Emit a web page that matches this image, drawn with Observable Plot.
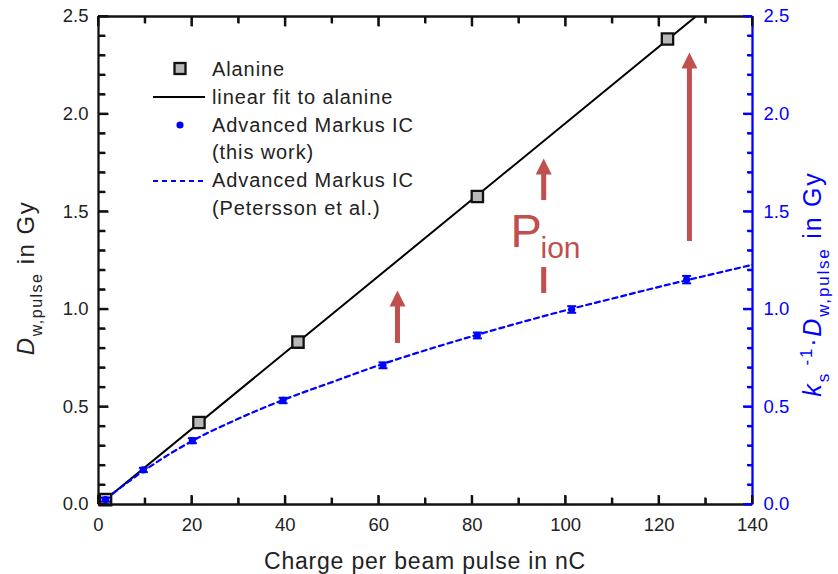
<!DOCTYPE html>
<html><head><meta charset="utf-8">
<script src="https://cdn.jsdelivr.net/npm/d3@7"></script>
<script src="https://cdn.jsdelivr.net/npm/@observablehq/plot@0.6"></script>
<style>
body{margin:0;background:#fff;}
#chart{width:838px;height:574px;}
svg text{font-family:"Liberation Sans",Arial,sans-serif;}
</style>
</head><body><div id="chart"></div>
<script>
// ---- data ----
const alanineCharge = [1.5, 21.5, 42.7, 81.1, 121.8];
const alanineDose   = [0.025, 0.42, 0.832, 1.578, 2.385];

const icCharge = [1.5, 9.6, 20.1, 39.5, 60.9, 81.1, 101.3, 125.9];
const icDose   = [0.025, 0.177, 0.327, 0.533, 0.713, 0.866, 0.999, 1.152];
const icErr    = [0.010, 0.011, 0.013, 0.014, 0.015, 0.015, 0.017, 0.019];

const peterssonCharge = [0, 10, 20, 30, 40, 50, 60, 70, 80, 90, 100, 110, 120, 130, 140];
const peterssonDose   = [0, 0.178, 0.325, 0.44, 0.54, 0.627, 0.713, 0.79, 0.862, 0.93, 0.995, 1.055, 1.115, 1.172, 1.228];

const xTickLabels = [0, 20, 40, 60, 80, 100, 120, 140];
const yTickLabels = [0, 0.5, 1.0, 1.5, 2.0, 2.5];
const xMinor = [10, 30, 50, 70, 90, 110, 130];
const yMinor = [0.1,0.2,0.3,0.4,0.6,0.7,0.8,0.9,1.1,1.2,1.3,1.4,1.6,1.7,1.8,1.9,2.1,2.2,2.3,2.4];

// P_ion arrows (annotation)
const arrowX    = [64.0, 95.3, 126.5];
const arrowFrom = [0.825, 1.557, 1.347];
const arrowTo   = [1.096, 1.772, 2.316];
const pionBarX = [95.3], pionBarFrom = [1.081], pionBarTo = [1.214];
const pionLabelX = [88.2], pionLabelY = [1.318];

const legendLabels = ["Alanine", "linear fit to alanine", "Advanced Markus IC", "(this work)", "Advanced Markus IC", "(Petersson et al.)"];

// ---- layout ----
const W = 838, H = 574, ML = 98, MR = 86, MT = 16, MB = 70;
const XMAX = 140, YMAX = 2.5;
const pxX = (W - ML - MR) / XMAX;   // pixels per nC
const pxY = (H - MT - MB) / YMAX;   // pixels per Gy
const px2x = p => p / pxX, px2y = p => p / pxY;

// ---- derived tables ----
const alanine = alanineCharge.map((x, i) => ({x, y: alanineDose[i]}));
const ic = icCharge.map((x, i) => ({x, y: icDose[i], e: icErr[i]}));
const petersson = peterssonCharge.map((x, i) => ({x, y: peterssonDose[i]}));
const arrows = arrowX.map((x, i) => ({x, y1: arrowFrom[i], y2: arrowTo[i]}));
const pionBar = pionBarX.map((x, i) => ({x, y1: pionBarFrom[i], y2: pionBarTo[i]}));
const pionLabel = pionLabelX.map((x, i) => ({x, y: pionLabelY[i]}));

// inward tick segments
const xTickSegs = [
  ...xTickLabels.map(v => ({x: v, y1: 0, y2: px2y(9)})),
  ...xMinor.map(v => ({x: v, y1: 0, y2: px2y(6.5)})),
  ...xTickLabels.map(v => ({x: v, y1: YMAX, y2: YMAX - px2y(10)})),
  ...xMinor.map(v => ({x: v, y1: YMAX, y2: YMAX - px2y(7)}))
];
const yTickSegsLeft = [
  ...yTickLabels.map(v => ({y: v, x1: 0, x2: px2x(10)})),
  ...yMinor.map(v => ({y: v, x1: 0, x2: px2x(7)}))
];
const yTickSegsRight = [
  ...yTickLabels.map(v => ({y: v, x1: XMAX, x2: XMAX - px2x(9)})),
  ...yMinor.map(v => ({y: v, x1: XMAX, x2: XMAX - px2x(5)}))
];

// least-squares linear fit to alanine
const mx = d3.mean(alanineCharge), my = d3.mean(alanineDose);
const slope = d3.sum(alanine, d => (d.x - mx) * (d.y - my)) / d3.sum(alanine, d => (d.x - mx) ** 2);
const intercept = my - slope * mx;
const fit = [0, XMAX].map(x => ({x, y: intercept + slope * x}));

const BLUE = "#0000ff", RED = "#c0504d", INK = "#111";
const headSym = {draw(ctx) { ctx.moveTo(0, 0); ctx.lineTo(-8, 16); ctx.lineTo(8, 16); ctx.closePath(); }};
const capW = px2x(4.5);
const tw = 2;
const frameH = [{y: 0}, {y: YMAX}];
const frameL = [{x: 0}], frameR = [{x: XMAX}];

const plot = Plot.plot({
  width: W, height: H,
  marginLeft: ML, marginRight: MR, marginTop: MT, marginBottom: MB,
  x: {domain: [0, XMAX]},
  y: {domain: [0, YMAX]},
  style: {background: "white", fontFamily: "Liberation Sans, Arial, sans-serif", overflow: "visible"},
  marks: [
    // tick labels
    Plot.axisX(xTickLabels, {anchor: "bottom", tickSize: 0, tickPadding: 13, tickFormat: d => String(d), fontSize: 18.5, label: null, fill: "#222"}),
    Plot.axisY(yTickLabels, {anchor: "left", tickSize: 0, tickPadding: 10, tickFormat: d3.format(".1f"), fontSize: 18.5, label: null, fill: "#222"}),
    Plot.axisY(yTickLabels, {anchor: "right", tickSize: 0, tickPadding: 11, tickFormat: d3.format(".1f"), fontSize: 18.5, label: null, fill: BLUE}),

    // fit line
    Plot.line(fit, {x: "x", y: "y", stroke: "black", strokeWidth: 2, clip: true}),
    // Petersson model (dashed)
    Plot.line(petersson, {x: "x", y: "y", stroke: BLUE, strokeWidth: 2.2, strokeDasharray: "5,4", curve: "catmull-rom", clip: true}),
    // alanine squares
    Plot.dot(alanine, {x: "x", y: "y", symbol: "square", r: 6.4, fill: "#b8b8b8", stroke: INK, strokeWidth: 2.3}),
    // IC error bars + points
    Plot.link(ic, {x1: "x", x2: "x", y1: d => d.y - d.e, y2: d => d.y + d.e, stroke: BLUE, strokeWidth: 2}),
    Plot.link(ic, {y1: d => d.y - d.e, y2: d => d.y - d.e, x1: d => d.x - capW, x2: d => d.x + capW, stroke: BLUE, strokeWidth: 2}),
    Plot.link(ic, {y1: d => d.y + d.e, y2: d => d.y + d.e, x1: d => d.x - capW, x2: d => d.x + capW, stroke: BLUE, strokeWidth: 2}),
    Plot.dot(ic, {x: "x", y: "y", r: 3.6, fill: BLUE, stroke: "none"}),

    // P_ion arrows
    Plot.ruleX(arrows, {x: "x", y1: "y2", y2: "y1", stroke: RED, strokeWidth: 5, insetTop: 12}),
    Plot.dot(arrows, {x: "x", y: "y2", symbol: headSym, fill: RED, stroke: "none"}),
    Plot.ruleX(pionBar, {x: "x", y1: "y2", y2: "y1", stroke: RED, strokeWidth: 5}),
    Plot.text(pionLabel, {x: "x", y: "y", text: () => "P", fill: RED, fontSize: 47, textAnchor: "start", lineAnchor: "bottom"}),
    Plot.text(pionLabel, {x: "x", y: "y", dx: 30, dy: 11, text: () => "ion", fill: RED, fontSize: 30, textAnchor: "start", lineAnchor: "bottom"}),

    // frame
    Plot.ruleY(frameH, {y: "y", stroke: INK, strokeWidth: 2.3}),
    Plot.ruleX(frameL, {x: "x", stroke: INK, strokeWidth: 2.3}),
    Plot.ruleX(frameR, {x: "x", stroke: BLUE, strokeWidth: 2.3}),

    // inward ticks (drawn last, on top of the frame)
    Plot.link(xTickSegs, {x1: "x", x2: "x", y1: "y1", y2: "y2", stroke: INK, strokeWidth: tw}),
    Plot.link(yTickSegsLeft, {x1: "x1", x2: "x2", y1: "y", y2: "y", stroke: INK, strokeWidth: tw}),
    Plot.link(yTickSegsRight, {x1: "x1", x2: "x2", y1: "y", y2: "y", stroke: BLUE, strokeWidth: tw})
  ]
});
document.getElementById("chart").appendChild(plot);

// ---- titles and legend ----
const svg = d3.select(plot);
const sx = plot.scale("x"), sy = plot.scale("y");

// safety copy of the inward ticks, positioned through Plot's own scales
const tg = svg.append("g").attr("fill", "none").attr("stroke-width", tw);
xTickSegs.forEach(d => tg.append("line").attr("stroke", INK)
  .attr("x1", sx.apply(d.x)).attr("x2", sx.apply(d.x)).attr("y1", sy.apply(d.y1)).attr("y2", sy.apply(d.y2)));
yTickSegsLeft.forEach(d => tg.append("line").attr("stroke", INK)
  .attr("x1", sx.apply(d.x1)).attr("x2", sx.apply(d.x2)).attr("y1", sy.apply(d.y)).attr("y2", sy.apply(d.y)));
yTickSegsRight.forEach(d => tg.append("line").attr("stroke", BLUE)
  .attr("x1", sx.apply(d.x1)).attr("x2", sx.apply(d.x2)).attr("y1", sy.apply(d.y)).attr("y2", sy.apply(d.y)));

function rich(transform, parts, opts = {}) {
  const t = svg.append("text").attr("transform", transform)
    .attr("text-anchor", opts.anchor || "middle")
    .attr("fill", opts.fill || "#222")
    .attr("font-size", opts.size || 22)
    .style("letter-spacing", opts.ls || "0px");
  parts.forEach(p => {
    const s = t.append("tspan").text(p.t);
    if (p.italic) s.attr("font-style", "italic");
    if (p.size) s.attr("font-size", p.size);
    if (p.dy) s.attr("dy", p.dy);
  });
  return t;
}
rich("translate(425,569)", [{t: "Charge per beam pulse in nC"}], {size: 23, ls: "0.8px"});
rich("translate(34,278) rotate(-90)", [
  {t: "D", italic: true}, {t: "w,pulse", size: 16, dy: 8}, {t: " in Gy", dy: -8}
], {size: 24, ls: "1.5px"});
rich("translate(821,284) rotate(-90)", [
  {t: "k", italic: true}, {t: "s", size: 17, dy: 8}, {t: " -1", size: 17, dy: -17},
  {t: "·", dy: 9}, {t: "D", italic: true}, {t: "w,pulse", size: 17, dy: 8}, {t: " in Gy", dy: -8}
], {size: 25, fill: BLUE, ls: "1.8px"});

// legend
const lg = svg.append("g");
const baseY = 76, step = 27.8;
legendLabels.forEach((s, i) => {
  lg.append("text").attr("x", 212).attr("y", baseY + i * step).attr("font-size", 20)
    .attr("text-anchor", "start")
    .style("letter-spacing", "0.9px").attr("fill", "#222").text(s);
});
lg.append("rect").attr("x", 174.5).attr("y", 63).attr("width", 11).attr("height", 11)
  .attr("fill", "#b8b8b8").attr("stroke", INK).attr("stroke-width", 2.3);
lg.append("line").attr("x1", 153).attr("x2", 205).attr("y1", 97).attr("y2", 97).attr("stroke", "black").attr("stroke-width", 2);
lg.append("circle").attr("cx", 180).attr("cy", 125).attr("r", 3.6).attr("fill", BLUE);
lg.append("line").attr("x1", 153).attr("x2", 205).attr("y1", 181).attr("y2", 181).attr("stroke", BLUE).attr("stroke-width", 2).attr("stroke-dasharray", "5,4");
</script>
</body></html>
